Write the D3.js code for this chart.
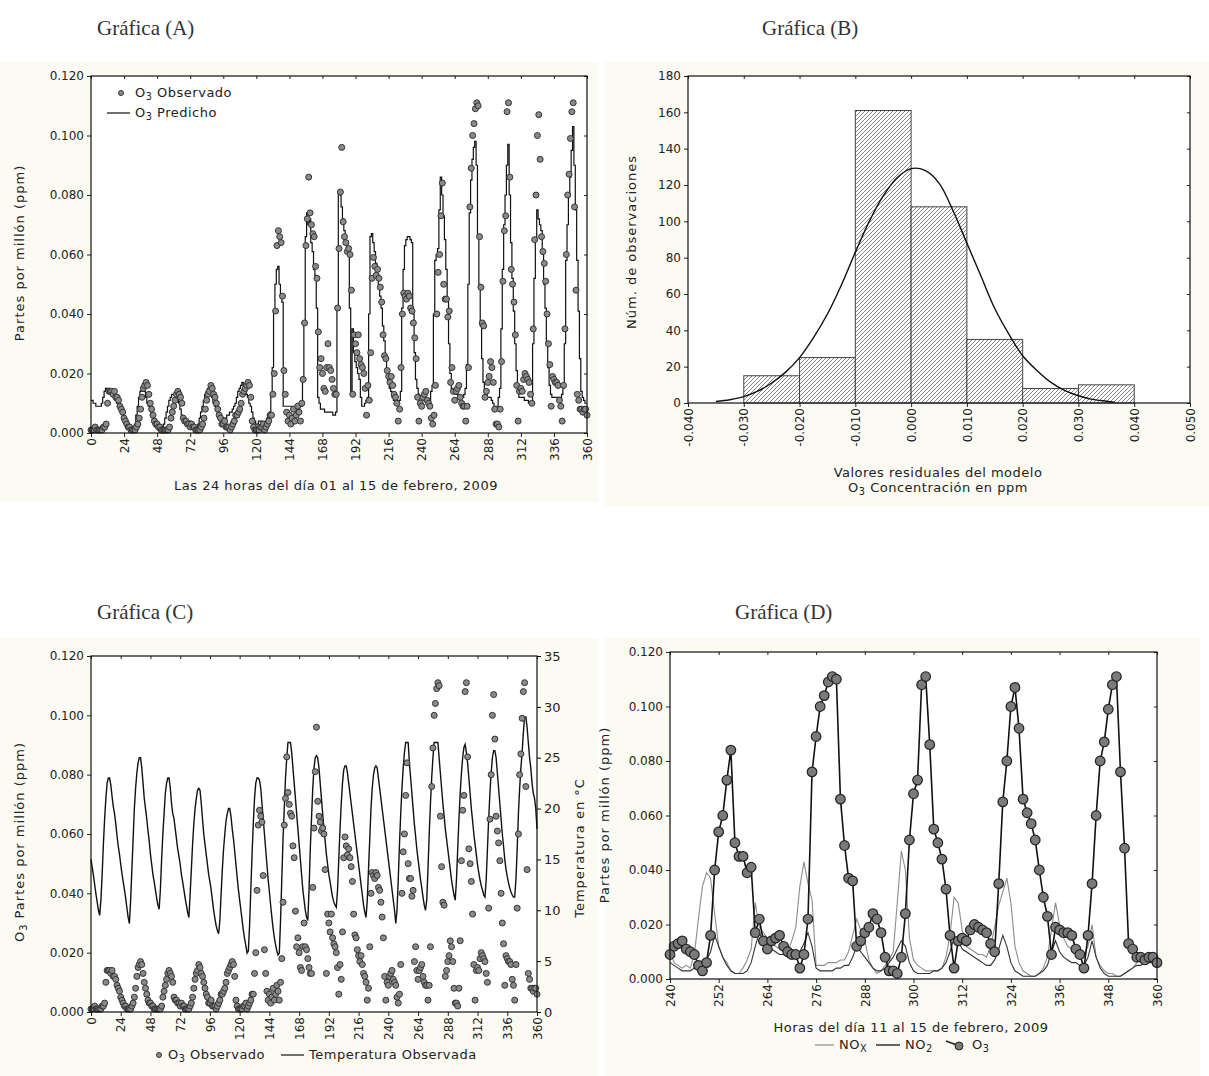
<!DOCTYPE html>
<html>
<head>
<meta charset="utf-8">
<title>Gráficas O3 - febrero 2009</title>
<script src="https://d3js.org/d3.v7.min.js"></script>
<style>
  body { margin: 0; background: #fff; }
  text { font-family: "DejaVu Sans", "Liberation Sans", sans-serif; fill: #222; }
  .tick text { font-size: 12px; }
  .lbl { font-size: 13px; letter-spacing: 0.5px; }
  .rot { letter-spacing: 1px; }
  .title { font-family: "Liberation Serif", "DejaVu Serif", serif; font-size: 21px; fill: #333; }
</style>
</head>
<body>
<div id="chart"></div>
<script>
// ---- data ----
// hourly O3 observed, ppb (ppm x 1000), hours 0..360, one row per day
var o3ObservedPpb = [
  1,1,1,2,1,1,1,1,1,2, 2,3,10,14,14,14,13,14,12,12, 11,9,8,7,
  5,4,3,2,2,1,1,1,1,2, 3,5,8,12,15,16,17,16,13,10, 8,6,4,3,
  3,2,2,1,1,1,1,1,1,2, 5,7,9,11,13,14,13,12,10,5, 4,4,3,3,
  2,3,2,2,1,1,1,1,2,3, 5,8,11,13,14,16,15,13,12,10, 8,6,5,3,
  3,4,2,2,2,1,2,3,4,6, 6,7,8,10,13,14,15,16,17,16, 12,4,2,1,
  1,1,1,2,2,3,1,2,3,4, 6,6,13,20,41,63,68,66,64,46, 21,13,7,4,
  6,3,5,8,4,6,9,7,4,10, 18,37,63,72,86,74,70,67,66,56, 52,34,22,25,
  20,15,14,22,30,22,21,18,15,13, 13,42,62,81,96,71,66,64,61,62, 60,48,13,33,
  30,27,33,25,23,22,20,15,6,16, 11,27,52,59,56,53,55,52,49,44, 33,26,25,21,
  19,17,19,16,13,12,10,4,8,22, 40,47,46,45,47,46,42,41,37,32, 25,12,4,10,
  9,12,13,14,11,10,9,5,3,6, 16,40,54,60,73,84,50,45,45,39, 41,17,22,14,
  11,14,15,16,12,10,9,9,4,9, 22,76,89,100,104,109,111,110,66,49, 37,36,12,14,
  17,19,24,22,17,8,3,3,2,8, 24,51,68,73,108,111,86,55,50,44, 33,16,4,14,
  15,14,18,20,19,18,17,13,10,35, 65,80,100,107,92,66,61,57,51,40, 30,23,9,19,
  18,17,17,16,11,9,4,16,35,60, 80,87,99,108,111,76,48,13,11,8, 8,7,8,8,
  6
];

// hourly O3 predicted by the model, ppb
var o3PredictedPpb = [
  11,11,10,10,9,9,9,9,10,12, 14,15,15,15,14,14,13,12,11,10, 9,8,7,6,
  5,4,3,2,1,1,1,1,3,6, 9,12,14,15,14,14,12,10,9,8, 6,5,3,2,
  2,1,1,1,2,3,5,7,9,11, 12,13,13,13,12,11,10,8,6,5, 5,4,4,4,
  4,3,3,2,2,2,3,5,7,9, 11,13,14,15,14,13,12,10,9,8, 7,6,6,5,
  5,5,5,6,6,7,7,8,9,10, 12,14,15,16,17,16,15,13,12,10, 9,7,5,4,
  3,3,4,4,4,3,3,4,5,6, 7,13,22,41,50,55,56,50,46,44, 9,9,9,9,
  9,9,9,8,8,8,9,8,9,9, 19,37,66,74,70,72,64,61,55,53, 42,12,10,8,
  8,8,7,7,7,7,7,7,6,6, 7,42,81,80,76,72,68,64,62,60, 42,14,35,27,
  24,22,20,18,12,9,9,10,11,12, 40,66,67,64,61,57,52,50,46,42, 36,31,26,21,
  17,15,14,12,11,10,10,10,11,14, 42,55,63,65,66,66,65,64,40,27, 18,15,13,12,
  12,12,11,11,10,10,11,14,16,40, 58,60,62,75,86,80,73,65,55,45, 30,20,15,14,
  14,13,13,12,12,12,12,13,15,23, 50,74,85,92,96,98,90,66,50,36, 25,17,14,13,
  12,12,12,11,10,9,9,9,12,15, 35,55,70,80,90,97,80,64,52,41, 30,21,14,12,
  12,12,12,11,11,11,10,10,10,30, 52,65,75,72,70,68,60,50,42,30, 22,16,13,12,
  12,12,12,12,12,12,13,15,30,58, 70,80,86,95,103,90,75,58,41,25, 14,12,11,10,
  10
];

// hourly observed temperature, degrees C
var temperatureC = [
  15,14.2,13.4,12.5,11.6,10.8,10,9.5,11,13.5, 16.5,19,21,22.5,23,23,22.3,21.2,20.2,19.5, 18.5,17.3,16.3,15.5,
  14.5,13.6,12.8,12,11.2,10.2,9.3,8.7,11,14, 17,20,22,23.5,24.5,25,25,24,22.5,21, 20,19,17.8,16.8,
  15.5,14.5,13.5,12.8,12,11.2,10.5,10.1,12,15, 17.5,19.5,21.5,22.5,23,23,22,20.5,19.5,19, 18,17,16,15.3,
  14.5,13.5,12.8,12,11.2,10.5,9.8,9.3,11.5,14, 16.5,18.5,20,21,21.8,22,21.8,20.5,19,17.5, 16.5,15.5,14.5,13.5,
  12.8,12,11,10,9.2,8.5,8,7.7,9,11.5, 14,16,17.5,18.8,19.5,20,20,19.2,18,17, 15.8,14.5,13.2,12,
  11,10,9,8,7.2,6.5,5.8,6,8.5,12, 15.5,18.5,21,22.5,23,23,22.8,22,20.5,19, 17.5,16,14.5,13,
  11.8,10.5,9.3,8.2,7.3,6.6,6,5.6,5.8,9, 13,17,20,23,25,26.5,26.5,26.5,25.5,24, 22.5,21,19.5,18,
  16.5,15,13.5,12,11,10,9.3,9,12,16, 19,22,24,25,25.2,25,24,22.5,21,19.5, 18,16.8,15.5,14.5,
  13.5,12.8,12,11.3,10.8,10.5,10.3,12,15,18, 20.5,22.5,23.8,24.2,24.2,23.5,22.5,21.5,20.5,19.5, 18.5,17.5,16.5,15.5,
  14.5,13.5,12.5,11.5,10.5,9.8,9.3,11,14,17, 20,22,23.3,24,24.2,24,23,22,21,20, 19,18,17,16,
  15,14,13,12,11,10,8.7,10,13,16.5, 19.5,22,24,25.5,26.5,26.5,26.5,24.5,23,21.5, 20,18.5,17.3,16,
  15,14,13,12.2,11.3,10.5,10,11,14,17.5, 20.5,23,25,26.5,26.5,26.5,26.5,25,23.5,22, 20.5,19.3,18,17,
  16,15,14,13,12.2,11.5,11,13,16,19, 21.5,23.5,25,26,26.3,25.5,24.5,23,21.5,20, 18.8,17.5,16.5,15.5,
  14.5,13.7,13,12.4,12,11.5,11.3,13,16,19, 21.5,23.5,25,25.7,25.7,25,23.5,22,20.5,19, 17.5,16.3,15,14,
  13.3,12.7,12.2,11.8,11.5,11.3,11.3,13,16,19.5, 22,24,25.5,27.5,29,29,28,26.5,25,24, 22.5,21.5,21,20,
  18
];

// hours 240..360, ppb
var noxPpb = [
  10,6,5,4,5,4,9,22,34,39,
  37,24,12,8,6,3,2,2,4,7,
  11,28,19,17,15,13,12,11,10,10,
  14,19,34,43,35,29,5,5,5,6,
  6,6,7,7,10,16,22,18,14,7,
  4,2,3,5,7,10,28,47,40,15,
  7,5,4,3,3,3,3,4,8,16,
  30,28,18,12,11,10,9,9,8,12,
  19,27,32,37,28,12,6,3,2,1,
  1,2,4,8,18,28,20,15,12,11,
  10,10,9,12,20,8,5,3,2,2,
  1,1,2,3,4,6,7,8,8,9,
  9
];
var no2Ppb = [
  6,5,4,3,3,3,4,4,5,7,
  10,16,12,8,5,3,2,2,2,3,
  6,12,17,14,12,11,10,9,9,8,
  8,9,10,13,17,12,4,3,3,3,
  3,4,4,5,5,8,12,10,8,6,
  4,3,3,4,6,8,11,14,12,6,
  3,2,2,2,2,3,3,4,6,10,
  15,14,11,10,9,8,7,6,5,5,
  7,11,16,12,6,3,2,1,1,1,
  1,2,3,5,10,14,10,8,7,6,
  6,5,5,8,14,8,4,2,1,1,
  1,1,2,3,4,5,5,6,6,6,
  6
];

// residual histogram (bin lower edges, width 0.01) and counts
var residualBinStart = [-0.03, -0.02, -0.01, 0.0, 0.01, 0.02, 0.03];
var residualCounts = [15, 25, 161, 108, 35, 8, 10];
// fitted normal curve
var curveResidual = [-0.035,-0.0325,-0.03,-0.0275,-0.025,-0.0225,-0.02,-0.0175,-0.015,-0.0125,-0.01,-0.0075,-0.005,-0.0025,0,0.0025,0.005,0.0075,0.01,0.0125,0.015,0.0175,0.02,0.0225,0.025,0.0275,0.03,0.0325,0.035,0.0365];
var curveCount    = [0.8,1.8,3.5,6.5,11,17,25,36,49,65,83,100,114,124,129,128,121,106,88,70,52,38,26,18,11.5,7,4,2,1,0.5];

// tick values
var hourTicks = [0,24,48,72,96,120,144,168,192,216,240,264,288,312,336,360];
var hourTicksD = [240,252,264,276,288,300,312,324,336,348,360];
var ppmTicks = [0,0.02,0.04,0.06,0.08,0.1,0.12];
var countTicks = [0,20,40,60,80,100,120,140,160,180];
var residualTicks = [-0.04,-0.03,-0.02,-0.01,0,0.01,0.02,0.03,0.04,0.05];
var tempTicks = [0,5,10,15,20,25,30,35];

var hours = d3.range(0, 361);
var hoursD = d3.range(240, 361);
var o3Obs = o3ObservedPpb.map(function(v){ return v / 1000; });
var o3Pred = o3PredictedPpb.map(function(v){ return v / 1000; });

// ---- svg ----
var svg = d3.select("#chart").append("svg").attr("width", 1209).attr("height", 1076);

var defs = svg.append("defs");
var pat = defs.append("pattern").attr("id", "hatch").attr("patternUnits", "userSpaceOnUse")
  .attr("width", 4).attr("height", 4);
pat.append("rect").attr("width", 4).attr("height", 4).attr("fill", "#fff");
pat.append("path").attr("d", "M-1,1 l2,-2 M0,4 l4,-4 M3,5 l2,-2")
  .attr("stroke", "#777").attr("stroke-width", 0.9);

// cream panel backgrounds
[[0,62,598,440],[604,62,605,444],[0,638,598,438],[604,638,596,438]].forEach(function(p){
  svg.append("rect").attr("x", p[0]).attr("y", p[1]).attr("width", p[2]).attr("height", p[3]).attr("fill", "#fbfaf3");
});

// titles
svg.append("text").attr("class", "title").attr("x", 97).attr("y", 35).text("Gráfica (A)");
svg.append("text").attr("class", "title").attr("x", 762).attr("y", 35).text("Gráfica (B)");
svg.append("text").attr("class", "title").attr("x", 97).attr("y", 619).text("Gráfica (C)");
svg.append("text").attr("class", "title").attr("x", 735).attr("y", 619).text("Gráfica (D)");

function fmt3(d){ return d.toFixed(3); }

function drawAxes(g, x, y, xTicks, yTicks, xFmt, yFmt, w, h, rightInner) {
  g.append("g").attr("transform", "translate(0," + h + ")")
    .call(d3.axisBottom(x).tickValues(xTicks).tickFormat(xFmt).tickSize(4).tickSizeOuter(0))
    .call(function(a){ a.select(".domain").remove(); })
    .selectAll("text").attr("transform", "rotate(-90)").attr("text-anchor", "end")
    .attr("x", -5).attr("y", 0).attr("dy", "0.35em");
  g.append("g")
    .call(d3.axisLeft(y).tickValues(yTicks).tickFormat(yFmt).tickSize(4).tickSizeOuter(0))
    .call(function(a){ a.select(".domain").remove(); });
  g.append("g")
    .call(d3.axisTop(x).tickValues(xTicks).tickFormat("").tickSize(-3).tickSizeOuter(0))
    .call(function(a){ a.select(".domain").remove(); });
  if (rightInner) {
    g.append("g").attr("transform", "translate(" + w + ",0)")
      .call(d3.axisRight(y).tickValues(yTicks).tickFormat("").tickSize(-3).tickSizeOuter(0))
      .call(function(a){ a.select(".domain").remove(); });
  }
  g.selectAll(".tick line").attr("stroke", "#222");
}

function outline(g, w, h) {
  g.append("rect").attr("width", w).attr("height", h).attr("fill", "none")
    .attr("stroke", "#111").attr("stroke-width", 1.2);
}

// text with subscript pieces: parts = [[text, isSub], ...]
function subText(sel, parts) {
  var down = false;
  parts.forEach(function(p){
    var t = sel.append("tspan").text(p[0]);
    if (p[1]) { t.attr("dy", 3).attr("font-size", "0.75em"); down = true; }
    else if (down) { t.attr("dy", -3); down = false; }
  });
  return sel;
}

function rotLabel(x, y, parts) {
  var t = svg.append("text").attr("class", "lbl rot").attr("text-anchor", "middle")
    .attr("transform", "translate(" + x + "," + y + ") rotate(-90)");
  subText(t, parts);
}

// ================= Panel A =================
var aW = 496, aH = 357;
var gA = svg.append("g").attr("transform", "translate(91,76)");
gA.append("rect").attr("width", aW).attr("height", aH).attr("fill", "#fff");
var xA = d3.scaleLinear().domain([0, 360]).range([0, aW]);
var yA = d3.scaleLinear().domain([0, 0.12]).range([aH, 0]);

gA.append("path").datum(hours)
  .attr("d", d3.line().curve(d3.curveStep).x(function(h){ return xA(h); }).y(function(h){ return yA(o3Pred[h]); }))
  .attr("fill", "none").attr("stroke", "#111").attr("stroke-width", 1.2);
gA.append("g").selectAll("circle").data(hours).enter().append("circle")
  .attr("cx", function(h){ return xA(h); }).attr("cy", function(h){ return yA(o3Obs[h]); })
  .attr("r", 3).attr("fill", "#8a8a8a").attr("stroke", "#333").attr("stroke-width", 1);
drawAxes(gA, xA, yA, hourTicks, ppmTicks, d3.format("d"), fmt3, aW, aH, true);
outline(gA, aW, aH);

// legend A
svg.append("circle").attr("cx", 121).attr("cy", 93).attr("r", 2.5).attr("fill", "#8a8a8a").attr("stroke", "#333");
subText(svg.append("text").attr("class", "lbl").attr("x", 135).attr("y", 97), [["O",0],["3",1],[" Observado",0]]);
svg.append("line").attr("x1", 107).attr("x2", 130).attr("y1", 113).attr("y2", 113).attr("stroke", "#111").attr("stroke-width", 1.2);
subText(svg.append("text").attr("class", "lbl").attr("x", 135).attr("y", 117), [["O",0],["3",1],[" Predicho",0]]);

rotLabel(24, 253, [["Partes por millón (ppm)",0]]);
svg.append("text").attr("class", "lbl").attr("text-anchor", "middle").attr("x", 336).attr("y", 490)
  .text("Las 24 horas del día 01 al 15 de febrero, 2009");

// ================= Panel B =================
var bW = 502, bH = 327;
var gB = svg.append("g").attr("transform", "translate(688,76)");
gB.append("rect").attr("width", bW).attr("height", bH).attr("fill", "#fff");
var xB = d3.scaleLinear().domain([-0.04, 0.05]).range([0, bW]);
var yB = d3.scaleLinear().domain([0, 180]).range([bH, 0]);

gB.append("g").selectAll("rect").data(residualCounts).enter().append("rect")
  .attr("x", function(d, i){ return xB(residualBinStart[i]); })
  .attr("width", function(d, i){ return xB(residualBinStart[i] + 0.01) - xB(residualBinStart[i]); })
  .attr("y", function(d){ return yB(d); })
  .attr("height", function(d){ return yB(0) - yB(d); })
  .attr("fill", "url(#hatch)").attr("stroke", "#444").attr("stroke-width", 1);

gB.append("path").datum(curveResidual.map(function(r, i){ return [r, curveCount[i]]; }))
  .attr("d", d3.line().curve(d3.curveCatmullRom).x(function(d){ return xB(d[0]); }).y(function(d){ return yB(d[1]); }))
  .attr("fill", "none").attr("stroke", "#111").attr("stroke-width", 1.4);
drawAxes(gB, xB, yB, residualTicks, countTicks, fmt3, d3.format("d"), bW, bH, true);
outline(gB, bW, bH);

rotLabel(636, 242, [["Núm. de observaciones",0]]);
svg.append("text").attr("class", "lbl").attr("text-anchor", "middle").attr("x", 938).attr("y", 477)
  .text("Valores residuales del modelo");
subText(svg.append("text").attr("class", "lbl").attr("text-anchor", "middle").attr("x", 938).attr("y", 492),
  [["O",0],["3",1],[" Concentración en ppm",0]]);

// ================= Panel C =================
var cW = 446, cH = 356;
var gC = svg.append("g").attr("transform", "translate(91,656)");
gC.append("rect").attr("width", cW).attr("height", cH).attr("fill", "#fff");
var xC = d3.scaleLinear().domain([0, 360]).range([0, cW]);
var yC = d3.scaleLinear().domain([0, 0.12]).range([cH, 0]);
var yT = d3.scaleLinear().domain([0, 35]).range([cH, 0]);

gC.append("path").datum(hours)
  .attr("d", d3.line().x(function(h){ return xC(h); }).y(function(h){ return yT(temperatureC[h]); }))
  .attr("fill", "none").attr("stroke", "#111").attr("stroke-width", 1.4);
gC.append("g").selectAll("circle").data(hours).enter().append("circle")
  .attr("cx", function(h){ return xC(h); }).attr("cy", function(h){ return yC(o3Obs[h]); })
  .attr("r", 3).attr("fill", "#8a8a8a").attr("stroke", "#333").attr("stroke-width", 1);
drawAxes(gC, xC, yC, hourTicks, ppmTicks, d3.format("d"), fmt3, cW, cH, false);
gC.append("g").attr("transform", "translate(" + cW + ",0)")
  .call(d3.axisRight(yT).tickValues(tempTicks).tickFormat(d3.format("d")).tickSize(4).tickSizeOuter(0))
  .call(function(a){ a.select(".domain").remove(); })
  .selectAll("text").style("font-size", "13px");
outline(gC, cW, cH);

rotLabel(24, 842, [["O",0],["3",1],[" Partes por millón (ppm)",0]]);
rotLabel(584, 848, [["Temperatura en °C",0]]);
// legend C
svg.append("circle").attr("cx", 159).attr("cy", 1055).attr("r", 2.5).attr("fill", "#8a8a8a").attr("stroke", "#333");
subText(svg.append("text").attr("class", "lbl").attr("x", 168).attr("y", 1059), [["O",0],["3",1],[" Observado",0]]);
svg.append("line").attr("x1", 281).attr("x2", 304).attr("y1", 1055).attr("y2", 1055).attr("stroke", "#111").attr("stroke-width", 1.2);
svg.append("text").attr("class", "lbl").attr("x", 309).attr("y", 1059).text("Temperatura Observada");

// ================= Panel D =================
var dW = 487, dH = 327;
var gD = svg.append("g").attr("transform", "translate(670,652)");
gD.append("rect").attr("width", dW).attr("height", dH).attr("fill", "#fff");
var xD = d3.scaleLinear().domain([240, 360]).range([0, dW]);
var yD = d3.scaleLinear().domain([0, 0.12]).range([dH, 0]);

gD.append("path").datum(hoursD)
  .attr("d", d3.line().x(function(h){ return xD(h); }).y(function(h){ return yD(noxPpb[h - 240] / 1000); }))
  .attr("fill", "none").attr("stroke", "#8c8c8c").attr("stroke-width", 1.1);
gD.append("path").datum(hoursD)
  .attr("d", d3.line().x(function(h){ return xD(h); }).y(function(h){ return yD(no2Ppb[h - 240] / 1000); }))
  .attr("fill", "none").attr("stroke", "#333").attr("stroke-width", 1.1);
gD.append("path").datum(hoursD)
  .attr("d", d3.line().x(function(h){ return xD(h); }).y(function(h){ return yD(o3Obs[h]); }))
  .attr("fill", "none").attr("stroke", "#111").attr("stroke-width", 1.6);
gD.append("g").selectAll("circle").data(hoursD).enter().append("circle")
  .attr("cx", function(h){ return xD(h); }).attr("cy", function(h){ return yD(o3Obs[h]); })
  .attr("r", 4.8).attr("fill", "#7a7a7a").attr("stroke", "#222").attr("stroke-width", 1.2);
drawAxes(gD, xD, yD, hourTicksD, ppmTicks, d3.format("d"), fmt3, dW, dH, true);
outline(gD, dW, dH);

rotLabel(609, 815, [["Partes por millón (ppm)",0]]);
svg.append("text").attr("class", "lbl").attr("text-anchor", "middle").attr("x", 911).attr("y", 1032)
  .text("Horas del día 11 al 15 de febrero, 2009");
// legend D
svg.append("line").attr("x1", 815).attr("x2", 834).attr("y1", 1045).attr("y2", 1045).attr("stroke", "#8c8c8c").attr("stroke-width", 1.2);
subText(svg.append("text").attr("class", "lbl").attr("x", 839).attr("y", 1049), [["NO",0],["X",1]]);
svg.append("line").attr("x1", 876).attr("x2", 900).attr("y1", 1045).attr("y2", 1045).attr("stroke", "#222").attr("stroke-width", 1.4);
subText(svg.append("text").attr("class", "lbl").attr("x", 905).attr("y", 1049), [["NO",0],["2",1]]);
svg.append("line").attr("x1", 946).attr("x2", 962).attr("y1", 1041).attr("y2", 1047).attr("stroke", "#222").attr("stroke-width", 1.4);
svg.append("circle").attr("cx", 959).attr("cy", 1046).attr("r", 4).attr("fill", "#7a7a7a").attr("stroke", "#222");
subText(svg.append("text").attr("class", "lbl").attr("x", 972).attr("y", 1049), [["O",0],["3",1]]);
</script>
</body>
</html>
